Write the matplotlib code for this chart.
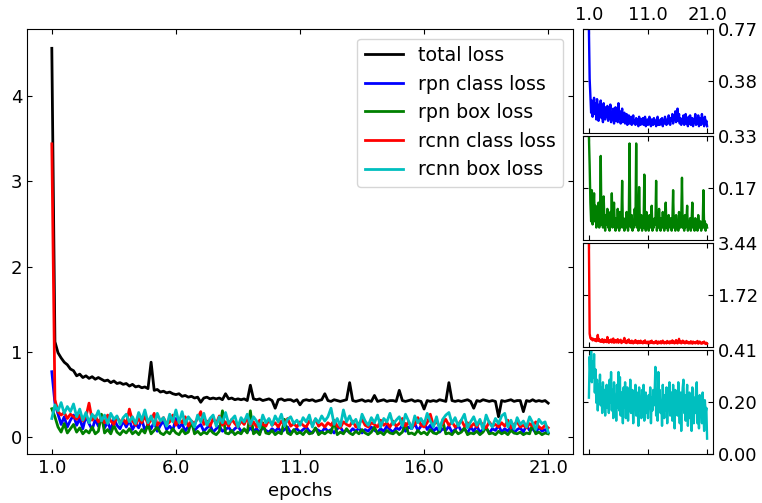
import matplotlib.pyplot as plt
import numpy as np

# losses, 8 readings per epoch from epoch 1.0 to 21.0
total_loss = [4.56, 1.12, 0.99, 0.93, 0.88, 0.85, 0.80, 0.78,
              0.72, 0.74, 0.70, 0.72, 0.69, 0.71, 0.68, 0.70,
              0.68, 0.66, 0.67, 0.64, 0.66, 0.63, 0.64, 0.62,
              0.63, 0.60, 0.62, 0.59, 0.60, 0.58, 0.59, 0.57,
              0.88, 0.55, 0.56, 0.53, 0.54, 0.52, 0.53, 0.51,
              0.50, 0.51, 0.48, 0.49, 0.47, 0.48, 0.46, 0.47,
              0.41, 0.46, 0.47, 0.45, 0.46, 0.45, 0.46, 0.44,
              0.51, 0.45, 0.46, 0.44, 0.45, 0.44, 0.45, 0.43,
              0.61, 0.45, 0.44, 0.45, 0.43, 0.44, 0.45, 0.43,
              0.34, 0.44, 0.45, 0.43, 0.44, 0.44, 0.42, 0.44,
              0.38, 0.43, 0.44, 0.43, 0.44, 0.42, 0.43, 0.44,
              0.51, 0.43, 0.42, 0.44, 0.43, 0.42, 0.43, 0.44,
              0.64, 0.43, 0.42, 0.43, 0.44, 0.42, 0.43, 0.42,
              0.49, 0.42, 0.43, 0.44, 0.42, 0.43, 0.43, 0.42,
              0.55, 0.43, 0.42, 0.43, 0.44, 0.42, 0.43, 0.42,
              0.33, 0.43, 0.42, 0.43, 0.42, 0.44, 0.43, 0.42,
              0.64, 0.43, 0.42, 0.43, 0.42, 0.43, 0.44, 0.42,
              0.34, 0.43, 0.42, 0.44, 0.43, 0.42, 0.43, 0.42,
              0.24, 0.43, 0.42, 0.43, 0.44, 0.42, 0.43, 0.43,
              0.30, 0.43, 0.42, 0.44, 0.42, 0.43, 0.42, 0.43,
              0.40]

rpn_class = [0.768, 0.40, 0.27, 0.15, 0.24, 0.12, 0.20, 0.26,
             0.14, 0.22, 0.10, 0.25, 0.16, 0.09, 0.21, 0.13,
             0.24, 0.11, 0.18, 0.08, 0.22, 0.14, 0.10, 0.19,
             0.12, 0.20, 0.09, 0.16, 0.11, 0.21, 0.08, 0.15,
             0.10, 0.18, 0.07, 0.14, 0.19, 0.09, 0.13, 0.08,
             0.22, 0.11, 0.16, 0.07, 0.13, 0.18, 0.08, 0.12,
             0.15, 0.07, 0.11, 0.14, 0.06, 0.10, 0.13, 0.07,
             0.09, 0.12, 0.06, 0.10, 0.13, 0.07, 0.09, 0.06,
             0.11, 0.07, 0.10, 0.05, 0.12, 0.08, 0.06, 0.10,
             0.07, 0.11, 0.06, 0.09, 0.12, 0.05, 0.08, 0.10,
             0.06, 0.09, 0.12, 0.07, 0.05, 0.10, 0.08, 0.06,
             0.11, 0.07, 0.09, 0.05, 0.10, 0.12, 0.06, 0.08,
             0.06, 0.10, 0.07, 0.11, 0.05, 0.09, 0.07, 0.12,
             0.08, 0.06, 0.10, 0.07, 0.13, 0.09, 0.06, 0.11,
             0.09, 0.14, 0.07, 0.12, 0.10, 0.16, 0.08, 0.13,
             0.18, 0.09, 0.14, 0.07, 0.11, 0.06, 0.10, 0.08,
             0.13, 0.06, 0.09, 0.14, 0.07, 0.10, 0.05, 0.12,
             0.07, 0.13, 0.06, 0.09, 0.11, 0.05, 0.10, 0.08,
             0.14, 0.06, 0.10, 0.07, 0.13, 0.05, 0.09, 0.11,
             0.06, 0.14, 0.08, 0.10, 0.05, 0.12, 0.07, 0.09,
             0.05]

rpn_box = [0.334, 0.24, 0.12, 0.06, 0.16, 0.05, 0.10, 0.15,
           0.06, 0.11, 0.04, 0.08, 0.05, 0.12, 0.04, 0.07,
           0.27, 0.05, 0.09, 0.04, 0.14, 0.06, 0.03, 0.08,
           0.05, 0.10, 0.04, 0.07, 0.03, 0.09, 0.05, 0.15,
           0.04, 0.08, 0.12, 0.05, 0.03, 0.07, 0.04, 0.10,
           0.05, 0.03, 0.09, 0.04, 0.06, 0.19, 0.04, 0.07,
           0.03, 0.06, 0.04, 0.09, 0.05, 0.03, 0.07, 0.31,
           0.05, 0.04, 0.08, 0.03, 0.06, 0.04, 0.10, 0.05,
           0.31, 0.04, 0.07, 0.03, 0.17, 0.05, 0.04, 0.08,
           0.03, 0.06, 0.04, 0.21, 0.05, 0.03, 0.09, 0.04,
           0.06, 0.03, 0.08, 0.04, 0.05, 0.11, 0.03, 0.06,
           0.04, 0.07, 0.05, 0.19, 0.03, 0.06, 0.04, 0.10,
           0.05, 0.03, 0.07, 0.04, 0.09, 0.05, 0.03, 0.06,
           0.12, 0.04, 0.06, 0.03, 0.08, 0.05, 0.04, 0.07,
           0.03, 0.06, 0.16, 0.04, 0.05, 0.03, 0.08, 0.04,
           0.06, 0.03, 0.09, 0.05, 0.04, 0.07, 0.20, 0.04,
           0.05, 0.03, 0.08, 0.04, 0.06, 0.11, 0.03, 0.05,
           0.04, 0.07, 0.03, 0.06, 0.12, 0.04, 0.05, 0.03,
           0.07, 0.04, 0.06, 0.03, 0.08, 0.05, 0.04, 0.06,
           0.03, 0.05, 0.04, 0.16, 0.04, 0.06, 0.03, 0.05,
           0.04]

rcnn_class = [3.44, 0.44, 0.30, 0.26, 0.29, 0.22, 0.27, 0.24,
              0.21, 0.26, 0.19, 0.24, 0.40, 0.20, 0.25, 0.18,
              0.23, 0.17, 0.26, 0.19, 0.15, 0.24, 0.18, 0.21,
              0.16, 0.33, 0.19, 0.14, 0.22, 0.17, 0.25, 0.15,
              0.20, 0.28, 0.14, 0.19, 0.23, 0.15, 0.18, 0.26,
              0.14, 0.21, 0.17, 0.24, 0.13, 0.19, 0.16, 0.22,
              0.30, 0.15, 0.19, 0.13, 0.22, 0.16, 0.25, 0.14,
              0.18, 0.13, 0.21, 0.16, 0.12, 0.19, 0.15, 0.23,
              0.14, 0.18, 0.12, 0.20, 0.15, 0.13, 0.21, 0.14,
              0.17, 0.12, 0.19, 0.14, 0.22, 0.13, 0.16, 0.12,
              0.18, 0.14, 0.12, 0.19, 0.15, 0.21, 0.13, 0.16,
              0.12, 0.17, 0.14, 0.20, 0.13, 0.11, 0.18, 0.15,
              0.13, 0.19, 0.12, 0.16, 0.21, 0.14, 0.12, 0.17,
              0.15, 0.12, 0.20, 0.14, 0.17, 0.12, 0.19, 0.13,
              0.16, 0.22, 0.13, 0.18, 0.12, 0.15, 0.23, 0.14,
              0.12, 0.17, 0.27, 0.14, 0.19, 0.12, 0.16, 0.21,
              0.14, 0.18, 0.12, 0.15, 0.20, 0.13, 0.17, 0.12,
              0.16, 0.12, 0.19, 0.14, 0.11, 0.18, 0.13, 0.15,
              0.12, 0.17, 0.13, 0.20, 0.11, 0.15, 0.18, 0.12,
              0.14, 0.11, 0.16, 0.13, 0.18, 0.12, 0.10, 0.14,
              0.11]

rcnn_box = [0.22, 0.38, 0.31, 0.406, 0.28, 0.36, 0.30, 0.39,
            0.24, 0.33, 0.20, 0.29, 0.17, 0.27, 0.22, 0.31,
            0.19, 0.26, 0.16, 0.28, 0.21, 0.25, 0.15, 0.23,
            0.27, 0.18, 0.24, 0.16, 0.29, 0.20, 0.32, 0.17,
            0.25, 0.14, 0.28, 0.19, 0.23, 0.13, 0.27, 0.18,
            0.32, 0.17, 0.30, 0.15, 0.24, 0.19, 0.12, 0.26,
            0.18, 0.28, 0.14, 0.22, 0.26, 0.13, 0.24, 0.17,
            0.29, 0.16, 0.21, 0.25, 0.12, 0.23, 0.18, 0.27,
            0.15, 0.24, 0.19, 0.11, 0.26, 0.17, 0.22, 0.14,
            0.25, 0.18, 0.27, 0.13, 0.21, 0.24, 0.16, 0.20,
            0.14, 0.23, 0.18, 0.26, 0.12, 0.22, 0.17, 0.25,
            0.19, 0.24, 0.34, 0.15, 0.22, 0.13, 0.32, 0.18,
            0.25, 0.16, 0.21, 0.11, 0.27, 0.19, 0.14, 0.23,
            0.17, 0.26, 0.12, 0.22, 0.18, 0.28, 0.15, 0.20,
            0.24, 0.13, 0.27, 0.19, 0.10, 0.25, 0.17, 0.22,
            0.15, 0.28, 0.19, 0.12, 0.24, 0.09, 0.21, 0.26,
            0.29, 0.16, 0.23, 0.13, 0.20, 0.27, 0.11, 0.18,
            0.24, 0.14, 0.21, 0.09, 0.26, 0.17, 0.12, 0.22,
            0.16, 0.25, 0.28, 0.12, 0.20, 0.10, 0.23, 0.15,
            0.19, 0.12, 0.24, 0.17, 0.09, 0.21, 0.16, 0.18,
            0.06]

labels = ['total loss', 'rpn class loss', 'rpn box loss', 'rcnn class loss', 'rcnn box loss']
colors = ['k', 'b', 'g', 'r', 'c']
xticks = [1.0, 6.0, 11.0, 16.0, 21.0]
small_xticks = [1.0, 11.0, 21.0]

plt.rcParams['font.size'] = 13

epochs = np.linspace(1, 21, len(total_loss))
losses = [total_loss, rpn_class, rpn_box, rcnn_class, rcnn_box]

W, H = 762, 503
fig = plt.figure(figsize=(W / 100, H / 100), dpi=100)

# main plot (pixel box -> figure fraction)
ax = fig.add_axes([27 / W, (H - 454) / H, (573 - 27) / W, (454 - 29) / H])
for l, c, lab in zip(losses, colors, labels):
    ax.plot(epochs, l, color=c, linewidth=2, label=lab)
ax.set_xticks(xticks)
ax.set_xticklabels(['%.1f' % t for t in xticks])
ax.set_yticks([0, 1, 2, 3, 4])
ax.tick_params(direction='in', top=True, right=True)
ax.set_xlabel('epochs')
ax.legend(loc='upper right', fontsize=13.7, labelspacing=0.5)

# small panels on the right, one per component
top, bottom, gap = 29, 454, 3
h = (bottom - top - 3 * gap) / 4
for k, (l, c) in enumerate(zip(losses[1:], colors[1:])):
    y0 = top + k * (h + gap)
    a = fig.add_axes([583 / W, (H - y0 - h) / H, 130 / W, h / H])
    a.plot(epochs, l, color=c, linewidth=1.7)
    m = max(l)
    a.set_ylim(0, m)
    a.set_xticks(small_xticks)
    a.set_xticklabels(['%.1f' % t for t in small_xticks])
    if k < 3:
        yt = [m / 2, m]
    else:
        yt = [0, m / 2, m]
    a.set_yticks(yt)
    a.set_yticklabels(['%.2f' % t for t in yt])
    a.tick_params(direction='in', top=True, bottom=True, left=True, right=True,
                  labelleft=False, labelright=True, labelbottom=False, labeltop=(k == 0))

plt.savefig('out.png', dpi=100)
